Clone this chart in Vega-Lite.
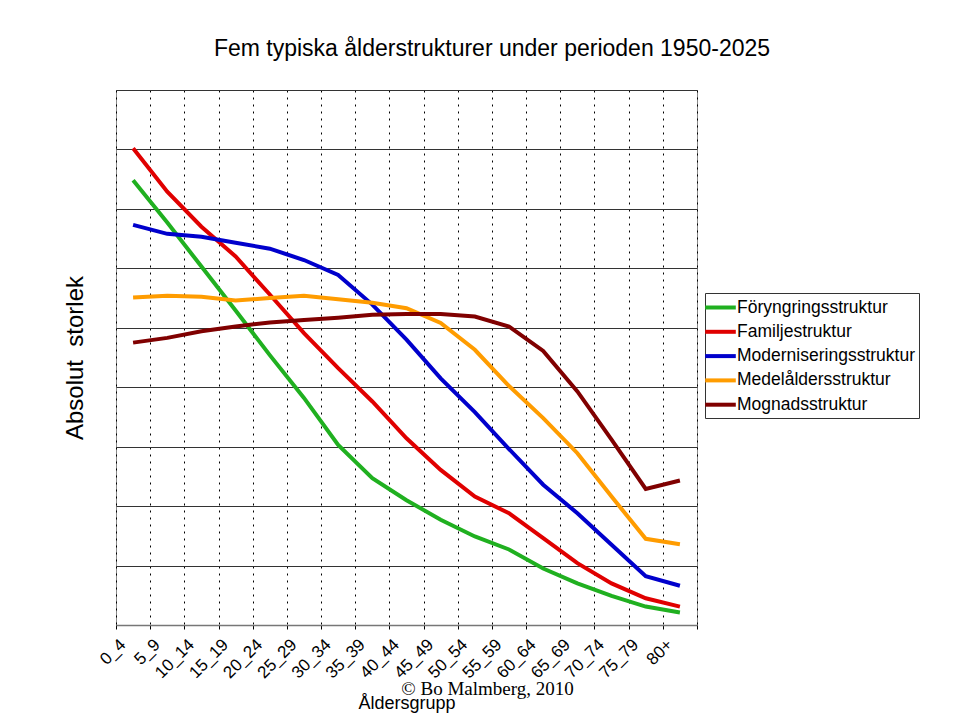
{
  "$schema": "https://vega.github.io/schema/vega-lite/v6.json",
  "background": "white",
  "padding": {"left": 62, "top": 37, "right": 30, "bottom": 15},
  "title": {"text": "Fem typiska ålderstrukturer under perioden 1950-2025", "font": "Liberation Sans", "fontSize": 23, "fontWeight": "normal", "color": "black", "anchor": "middle", "offset": 29, "dx": 1},
  "vconcat": [
    {
      "width": 581,
      "height": 535,
      "title": {"text": "© Bo Malmberg, 2010", "orient": "bottom", "font": "Liberation Serif", "fontSize": 19, "fontWeight": "normal", "color": "black", "anchor": "middle", "offset": -33, "dx": 81},
      "data": {
        "values": [
          {"age": "0_4", "series": "Föryngringsstruktur", "value": 7.48},
          {"age": "5_9", "series": "Föryngringsstruktur", "value": 6.77},
          {"age": "10_14", "series": "Föryngringsstruktur", "value": 6.03},
          {"age": "15_19", "series": "Föryngringsstruktur", "value": 5.29},
          {"age": "20_24", "series": "Föryngringsstruktur", "value": 4.54},
          {"age": "25_29", "series": "Föryngringsstruktur", "value": 3.82},
          {"age": "30_34", "series": "Föryngringsstruktur", "value": 3.03},
          {"age": "35_39", "series": "Föryngringsstruktur", "value": 2.47},
          {"age": "40_44", "series": "Föryngringsstruktur", "value": 2.10},
          {"age": "45_49", "series": "Föryngringsstruktur", "value": 1.77},
          {"age": "50_54", "series": "Föryngringsstruktur", "value": 1.49},
          {"age": "55_59", "series": "Föryngringsstruktur", "value": 1.27},
          {"age": "60_64", "series": "Föryngringsstruktur", "value": 0.95},
          {"age": "65_69", "series": "Föryngringsstruktur", "value": 0.70},
          {"age": "70_74", "series": "Föryngringsstruktur", "value": 0.49},
          {"age": "75_79", "series": "Föryngringsstruktur", "value": 0.31},
          {"age": "80+", "series": "Föryngringsstruktur", "value": 0.21},
          {"age": "0_4", "series": "Familjestruktur", "value": 8.02},
          {"age": "5_9", "series": "Familjestruktur", "value": 7.29},
          {"age": "10_14", "series": "Familjestruktur", "value": 6.70},
          {"age": "15_19", "series": "Familjestruktur", "value": 6.20},
          {"age": "20_24", "series": "Familjestruktur", "value": 5.56},
          {"age": "25_29", "series": "Familjestruktur", "value": 4.91},
          {"age": "30_34", "series": "Familjestruktur", "value": 4.32},
          {"age": "35_39", "series": "Familjestruktur", "value": 3.76},
          {"age": "40_44", "series": "Familjestruktur", "value": 3.14},
          {"age": "45_49", "series": "Familjestruktur", "value": 2.61},
          {"age": "50_54", "series": "Familjestruktur", "value": 2.16},
          {"age": "55_59", "series": "Familjestruktur", "value": 1.88},
          {"age": "60_64", "series": "Familjestruktur", "value": 1.46},
          {"age": "65_69", "series": "Familjestruktur", "value": 1.04},
          {"age": "70_74", "series": "Familjestruktur", "value": 0.70},
          {"age": "75_79", "series": "Familjestruktur", "value": 0.45},
          {"age": "80+", "series": "Familjestruktur", "value": 0.31},
          {"age": "0_4", "series": "Moderniseringsstruktur", "value": 6.73},
          {"age": "5_9", "series": "Moderniseringsstruktur", "value": 6.58},
          {"age": "10_14", "series": "Moderniseringsstruktur", "value": 6.53},
          {"age": "15_19", "series": "Moderniseringsstruktur", "value": 6.43},
          {"age": "20_24", "series": "Moderniseringsstruktur", "value": 6.33},
          {"age": "25_29", "series": "Moderniseringsstruktur", "value": 6.14},
          {"age": "30_34", "series": "Moderniseringsstruktur", "value": 5.89},
          {"age": "35_39", "series": "Moderniseringsstruktur", "value": 5.39},
          {"age": "40_44", "series": "Moderniseringsstruktur", "value": 4.80},
          {"age": "45_49", "series": "Moderniseringsstruktur", "value": 4.15},
          {"age": "50_54", "series": "Moderniseringsstruktur", "value": 3.58},
          {"age": "55_59", "series": "Moderniseringsstruktur", "value": 2.96},
          {"age": "60_64", "series": "Moderniseringsstruktur", "value": 2.36},
          {"age": "65_69", "series": "Moderniseringsstruktur", "value": 1.88},
          {"age": "70_74", "series": "Moderniseringsstruktur", "value": 1.35},
          {"age": "75_79", "series": "Moderniseringsstruktur", "value": 0.82},
          {"age": "80+", "series": "Moderniseringsstruktur", "value": 0.66},
          {"age": "0_4", "series": "Medelåldersstruktur", "value": 5.51},
          {"age": "5_9", "series": "Medelåldersstruktur", "value": 5.54},
          {"age": "10_14", "series": "Medelåldersstruktur", "value": 5.52},
          {"age": "15_19", "series": "Medelåldersstruktur", "value": 5.46},
          {"age": "20_24", "series": "Medelåldersstruktur", "value": 5.50},
          {"age": "25_29", "series": "Medelåldersstruktur", "value": 5.54},
          {"age": "30_34", "series": "Medelåldersstruktur", "value": 5.48},
          {"age": "35_39", "series": "Medelåldersstruktur", "value": 5.42},
          {"age": "40_44", "series": "Medelåldersstruktur", "value": 5.33},
          {"age": "45_49", "series": "Medelåldersstruktur", "value": 5.08},
          {"age": "50_54", "series": "Medelåldersstruktur", "value": 4.63},
          {"age": "55_59", "series": "Medelåldersstruktur", "value": 4.02},
          {"age": "60_64", "series": "Medelåldersstruktur", "value": 3.48},
          {"age": "65_69", "series": "Medelåldersstruktur", "value": 2.89},
          {"age": "70_74", "series": "Medelåldersstruktur", "value": 2.16},
          {"age": "75_79", "series": "Medelåldersstruktur", "value": 1.45},
          {"age": "80+", "series": "Medelåldersstruktur", "value": 1.36},
          {"age": "0_4", "series": "Mognadsstruktur", "value": 4.75},
          {"age": "5_9", "series": "Mognadsstruktur", "value": 4.83},
          {"age": "10_14", "series": "Mognadsstruktur", "value": 4.94},
          {"age": "15_19", "series": "Mognadsstruktur", "value": 5.02},
          {"age": "20_24", "series": "Mognadsstruktur", "value": 5.09},
          {"age": "25_29", "series": "Mognadsstruktur", "value": 5.13},
          {"age": "30_34", "series": "Mognadsstruktur", "value": 5.17},
          {"age": "35_39", "series": "Mognadsstruktur", "value": 5.22},
          {"age": "40_44", "series": "Mognadsstruktur", "value": 5.23},
          {"age": "45_49", "series": "Mognadsstruktur", "value": 5.23},
          {"age": "50_54", "series": "Mognadsstruktur", "value": 5.19},
          {"age": "55_59", "series": "Mognadsstruktur", "value": 5.02},
          {"age": "60_64", "series": "Mognadsstruktur", "value": 4.61},
          {"age": "65_69", "series": "Mognadsstruktur", "value": 3.93},
          {"age": "70_74", "series": "Mognadsstruktur", "value": 3.12},
          {"age": "75_79", "series": "Mognadsstruktur", "value": 2.29},
          {"age": "80+", "series": "Mognadsstruktur", "value": 2.43}
        ]
      },
      "mark": {"type": "line", "strokeWidth": 4, "clip": false},
      "encoding": {
        "x": {
          "field": "age",
          "type": "nominal",
          "sort": ["0_4", "5_9", "10_14", "15_19", "20_24", "25_29", "30_34", "35_39", "40_44", "45_49", "50_54", "55_59", "60_64", "65_69", "70_74", "75_79", "80+"],
          "scale": {"type": "band", "paddingInner": 0, "paddingOuter": 0},
          "bandPosition": 0.5,
          "axis": {
            "title": "Åldersgrupp",
            "titleFont": "Liberation Sans",
            "titleFontSize": 18,
            "titleFontWeight": "normal",
            "titleColor": "black",
            "titlePadding": 14,
            "tickBand": "extent",
            "grid": true,
            "gridColor": "black",
            "gridDash": [2, 5],
            "gridWidth": 1,
            "gridOpacity": 1,
            "ticks": true,
            "tickColor": "black",
            "tickSize": 4,
            "domain": true,
            "domainColor": "#777777",
            "domainWidth": 1.5,
            "labelAngle": -45,
            "labelAlign": "right",
            "labelBaseline": "top",
            "labelFont": "Liberation Sans",
            "labelFontSize": 17,
            "labelColor": "black",
            "labelOffset": -16,
            "labelPadding": 7,
            "labelOverlap": false,
            "labelBound": false
          }
        },
        "y": {
          "field": "value",
          "type": "quantitative",
          "scale": {"domain": [0, 9], "nice": false, "zero": true},
          "axis": {
            "title": "Absolut \u00a0storlek",
            "titleFont": "Liberation Sans",
            "titleFontSize": 24,
            "titleFontWeight": "normal",
            "titleColor": "black",
            "titlePadding": 29,
            "values": [0, 1, 2, 3, 4, 5, 6, 7, 8, 9],
            "labels": false,
            "ticks": false,
            "domain": false,
            "grid": true,
            "gridColor": "#333333",
            "gridWidth": 1,
            "gridOpacity": 1
          }
        },
        "color": {
          "field": "series",
          "type": "nominal",
          "sort": ["Föryngringsstruktur", "Familjestruktur", "Moderniseringsstruktur", "Medelåldersstruktur", "Mognadsstruktur"],
          "scale": {
            "domain": ["Föryngringsstruktur", "Familjestruktur", "Moderniseringsstruktur", "Medelåldersstruktur", "Mognadsstruktur"],
            "range": ["#20b020", "#e00000", "#0000cc", "#ff9c00", "#800000"]
          },
          "legend": {
            "title": null,
            "orient": "none",
            "legendX": 589,
            "legendY": 203,
            "strokeColor": "#333333",
            "padding": 4,
            "labelFont": "Liberation Sans",
            "labelFontSize": 17.5,
            "labelColor": "black",
            "labelLimit": 400,
            "symbolType": "M-1.8,0H1.8",
            "symbolSize": 289,
            "symbolStrokeWidth": 4,
            "symbolOffset": 1,
            "labelOffset": 6,
            "rowPadding": 5.3
          }
        }
      }
    }
  ],
  "config": {
    "view": {"stroke": "#888888", "strokeWidth": 1}
  }
}
